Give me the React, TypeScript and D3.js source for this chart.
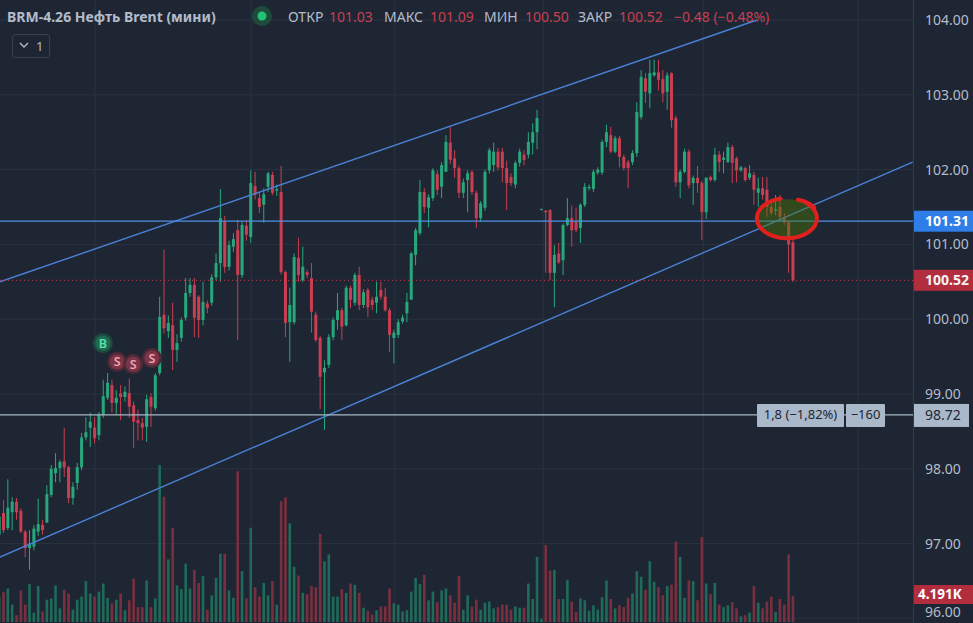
import React from 'react';
import * as d3 from 'd3';

const W = 973;
const H = 623;
const PLOT_R = 913;

const BG = '#1f2633';
const GRID = '#2a3240';
const TXT = '#b3bccb';
const UP = '#27a87c';
const DOWN = '#c93e50';
const VOL_UP = '#1e6b59';
const VOL_DOWN = '#7a2f3e';
const CHANNEL = '#4a80d6';

const priceTicks = [104, 103, 102, 101, 100, 99, 98, 97, 96];
const timeGridIdx = [22.1, 58.1, 91.2, 125.4, 162.3, 198];

// [open, high, low, close]
const ohlc: [number, number, number, number][] = [
  [97.12, 97.40, 97.08, 97.36], [97.41, 97.58, 97.14, 97.18], [97.21, 97.86, 97.18, 97.48], [97.42, 97.62, 97.18, 97.56],
  [97.56, 97.61, 97.32, 97.42], [97.44, 97.47, 97.14, 97.16], [97.16, 97.18, 96.82, 96.94], [96.94, 97.18, 96.65, 97.00],
  [96.96, 97.25, 96.91, 97.20], [97.16, 97.60, 97.10, 97.26], [97.25, 97.32, 97.12, 97.18], [97.28, 97.78, 97.28, 97.66],
  [97.65, 98.05, 97.62, 98.00], [97.94, 98.21, 97.82, 98.01], [98.01, 98.12, 97.82, 98.09], [98.10, 98.55, 97.89, 98.02],
  [98.02, 98.04, 97.54, 97.61], [97.61, 97.82, 97.52, 97.76], [97.81, 98.08, 97.72, 98.02], [98.02, 98.48, 97.98, 98.42],
  [98.42, 98.69, 98.38, 98.49], [98.55, 98.75, 98.29, 98.63], [98.55, 98.69, 98.34, 98.41], [98.45, 98.76, 98.38, 98.72],
  [98.72, 99.19, 98.68, 98.97], [98.95, 99.28, 98.92, 99.15], [99.12, 99.19, 98.75, 98.88], [98.88, 99.05, 98.72, 98.95],
  [99.01, 99.12, 98.65, 98.96], [98.96, 99.10, 98.90, 99.03], [99.01, 99.21, 98.68, 98.83], [98.85, 98.90, 98.28, 98.63],
  [98.65, 98.79, 98.38, 98.61], [98.61, 98.68, 98.38, 98.55], [98.56, 98.99, 98.36, 98.93], [98.96, 99.01, 98.56, 98.83],
  [98.81, 99.28, 98.78, 99.25], [99.28, 100.30, 99.25, 100.03], [100.06, 100.93, 99.81, 99.88], [99.84, 100.05, 99.75, 99.95],
  [99.92, 100.22, 99.32, 99.59], [99.59, 99.80, 99.43, 99.68], [99.75, 100.02, 99.70, 99.99], [100.02, 100.55, 99.98, 100.35],
  [100.35, 100.55, 100.30, 100.46], [100.46, 100.55, 99.76, 100.02], [100.30, 100.32, 99.75, 99.99], [99.99, 100.50, 99.92, 100.23],
  [100.21, 100.25, 100.08, 100.15], [100.22, 100.60, 100.18, 100.56], [100.56, 100.88, 100.52, 100.75], [100.75, 101.74, 100.50, 101.35],
  [101.30, 101.38, 100.62, 100.70], [100.70, 101.05, 100.65, 100.99], [100.97, 101.15, 100.90, 101.07], [101.19, 101.33, 99.72, 100.59],
  [100.59, 101.30, 100.55, 101.26], [101.25, 101.32, 101.05, 101.13], [101.10, 101.99, 101.02, 101.82], [101.78, 101.97, 101.60, 101.66],
  [101.62, 101.70, 101.42, 101.50], [101.53, 101.75, 101.29, 101.67], [101.77, 101.97, 101.70, 101.95], [101.93, 101.97, 101.66, 101.69],
  [101.72, 101.80, 101.65, 101.74], [101.70, 102.05, 100.60, 100.63], [100.63, 100.65, 99.76, 99.95], [99.96, 100.42, 99.43, 100.19],
  [99.96, 100.88, 99.93, 100.83], [100.82, 101.09, 100.50, 100.59], [100.52, 100.97, 100.50, 100.70], [100.63, 100.66, 100.55, 100.59],
  [100.55, 100.75, 99.82, 100.10], [100.06, 100.10, 99.70, 99.72], [99.75, 99.78, 98.80, 99.23], [99.29, 99.45, 98.52, 99.35],
  [99.39, 99.80, 99.35, 99.76], [99.76, 100.02, 99.72, 99.99], [99.99, 100.35, 99.86, 100.12], [100.12, 100.15, 99.72, 99.90],
  [99.92, 100.45, 99.90, 100.42], [100.42, 100.45, 100.15, 100.26], [100.22, 100.62, 100.18, 100.59], [100.59, 100.70, 100.12, 100.19],
  [100.19, 100.40, 100.15, 100.36], [100.39, 100.42, 100.03, 100.16], [100.26, 100.30, 100.12, 100.19], [100.22, 100.50, 100.08, 100.30],
  [100.39, 100.50, 100.26, 100.30], [100.30, 100.42, 100.10, 100.12], [100.12, 100.15, 99.56, 99.79], [99.75, 99.86, 99.41, 99.82],
  [99.79, 100.00, 99.75, 99.96], [99.97, 100.06, 99.94, 100.02], [100.08, 100.35, 99.96, 100.23], [100.26, 100.90, 100.26, 100.88],
  [100.86, 101.22, 100.72, 101.19], [101.15, 101.86, 101.12, 101.70], [101.70, 101.75, 101.42, 101.50], [101.49, 101.67, 101.23, 101.63],
  [101.62, 102.02, 101.58, 101.99], [101.94, 101.99, 101.66, 101.73], [101.77, 102.10, 101.62, 102.06], [101.97, 102.46, 101.97, 102.37],
  [102.36, 102.57, 102.08, 102.13], [102.15, 102.26, 101.89, 102.02], [102.02, 102.05, 101.62, 101.69], [101.69, 101.88, 101.62, 101.83],
  [101.86, 101.99, 101.43, 101.95], [101.97, 101.99, 101.66, 101.70], [101.69, 101.72, 101.22, 101.35], [101.35, 101.58, 101.30, 101.55],
  [101.49, 102.00, 101.45, 101.97], [101.99, 102.29, 101.95, 102.26], [102.06, 102.36, 101.97, 102.24], [102.24, 102.29, 101.99, 102.03],
  [102.24, 102.29, 101.83, 102.02], [102.02, 102.12, 101.46, 101.82], [101.90, 101.95, 101.78, 101.82], [101.80, 102.12, 101.75, 102.09],
  [102.09, 102.28, 102.04, 102.24], [102.20, 102.26, 102.06, 102.13], [102.20, 102.50, 102.15, 102.37], [102.36, 102.62, 102.20, 102.50],
  [102.50, 102.80, 102.27, 102.69], [101.47, 101.48, 101.46, 101.47], [101.45, 101.46, 100.62, 101.43], [101.46, 101.47, 100.52, 100.62],
  [100.62, 100.99, 100.16, 100.86], [100.88, 101.02, 100.74, 100.76], [100.79, 101.28, 100.59, 101.26], [101.26, 101.62, 101.24, 101.35],
  [101.35, 101.52, 100.97, 101.19], [101.31, 101.49, 101.16, 101.19], [101.22, 101.55, 101.02, 101.53], [101.53, 101.82, 101.50, 101.77],
  [101.75, 101.80, 101.72, 101.77], [101.74, 102.00, 101.70, 101.97], [101.96, 102.03, 101.93, 102.00], [101.96, 102.40, 101.93, 102.37],
  [102.37, 102.60, 102.30, 102.50], [102.46, 102.57, 102.22, 102.24], [102.24, 102.45, 102.22, 102.42], [102.42, 102.45, 102.03, 102.17],
  [102.17, 102.20, 101.99, 102.02], [102.10, 102.13, 101.75, 102.02], [102.10, 102.26, 102.06, 102.22], [102.22, 102.90, 102.17, 102.77],
  [102.70, 103.33, 102.67, 103.24], [103.22, 103.29, 102.89, 103.04], [103.02, 103.47, 102.82, 103.29], [103.26, 103.47, 103.24, 103.30],
  [103.30, 103.47, 103.06, 103.20], [103.21, 103.33, 102.90, 103.02], [103.04, 103.30, 102.80, 103.26], [103.29, 103.30, 102.56, 102.66],
  [102.69, 102.72, 101.77, 101.83], [101.83, 102.00, 101.62, 101.97], [101.97, 102.28, 101.95, 102.24], [102.24, 102.27, 101.75, 101.79],
  [101.82, 101.92, 101.53, 101.89], [101.89, 102.05, 101.69, 101.82], [101.82, 101.85, 101.06, 101.43], [101.43, 101.90, 101.34, 101.89],
  [101.90, 101.92, 101.84, 101.86], [101.86, 102.29, 101.84, 102.20], [102.20, 102.25, 101.97, 102.10], [102.13, 102.24, 101.95, 102.16],
  [102.10, 102.36, 102.09, 102.30], [102.30, 102.33, 101.82, 102.09], [102.15, 102.17, 101.83, 101.99], [101.99, 102.05, 101.97, 102.03],
  [102.02, 102.04, 101.84, 101.86], [101.89, 102.06, 101.86, 101.95], [101.93, 101.97, 101.53, 101.73], [101.69, 101.89, 101.50, 101.75],
  [101.75, 101.90, 101.60, 101.66], [101.73, 101.90, 101.37, 101.50], [101.50, 101.59, 101.39, 101.42], [101.45, 101.66, 101.39, 101.47],
  [101.50, 101.66, 101.33, 101.37], [101.35, 101.42, 101.26, 101.30], [101.30, 101.31, 100.62, 101.00], [101.03, 101.09, 100.50, 100.52],
];

// volume, thousands of contracts
const volume = [
  4.0, 4.8, 5.4, 2.8, 1.1, 5.1, 2.8, 6.1, 1.5, 5.8,
  1.7, 3.6, 3.8, 5.9, 2.2, 5.2, 4.6, 2.0, 3.6, 4.1,
  6.6, 4.6, 4.1, 4.9, 6.2, 3.9, 3.0, 3.6, 4.6, 1.9,
  3.5, 7.0, 2.4, 2.4, 6.7, 2.4, 3.8, 25.3, 20.2, 10.1,
  15.2, 5.9, 5.3, 9.4, 5.4, 8.4, 6.3, 7.4, 2.0, 4.3,
  7.1, 11.0, 11.0, 5.1, 3.9, 24.3, 8.2, 3.8, 15.2, 5.6,
  4.1, 6.3, 4.3, 6.6, 2.8, 19.5, 20.1, 15.9, 8.9, 7.5,
  4.7, 4.5, 5.8, 5.6, 14.2, 9.8, 10.9, 4.1, 4.1, 5.3,
  4.7, 6.2, 6.0, 4.7, 2.3, 1.8, 1.2, 1.9, 2.5, 2.5,
  5.4, 3.0, 2.8, 1.7, 1.9, 4.9, 7.1, 6.1, 7.6, 3.5,
  4.9, 3.2, 5.1, 5.4, 4.3, 3.1, 7.4, 2.0, 4.3, 2.5,
  3.6, 2.0, 3.1, 3.3, 2.2, 2.4, 2.8, 2.8, 2.0, 2.5,
  2.3, 2.3, 6.2, 3.7, 10.5, 0.5, 12.4, 8.3, 8.4, 3.7,
  3.7, 6.8, 3.3, 1.6, 3.8, 3.5, 1.8, 2.7, 2.0, 4.0,
  6.7, 3.7, 2.2, 2.7, 2.4, 3.9, 4.6, 8.2, 7.3, 5.2,
  9.8, 6.5, 5.6, 4.3, 5.8, 6.0, 13.0, 10.5, 3.9, 6.7,
  6.6, 3.5, 13.7, 6.2, 4.5, 6.3, 2.8, 2.4, 2.7, 3.2,
  2.2, 0.9, 1.1, 1.5, 5.8, 3.1, 2.2, 3.3, 4.1, 1.6,
  3.7, 2.8, 10.9, 4.191,
];

const upperChannel = [{ i: 0.19, p: 100.50 }, { i: 174.7, p: 104.0 }];
const lowerChannel = [{ i: 0.19, p: 96.82 }, { i: 210.6, p: 102.10 }];
const levelBlue = 101.31;
const levelMeasure = 98.72;
const measureText = '1,8 (−1,82%)';
const measureBars = '−160';
const markers = [
  { i: 23.9, p: 99.68, t: 'B' },
  { i: 27.2, p: 99.43, t: 'S' },
  { i: 30.9, p: 99.40, t: 'S' },
  { i: 35.2, p: 99.48, t: 'S' },
];
const highlight = { i: 181.6, p: 101.35, rx: 30, ry: 20 };

const title = 'BRM-4.26 Нефть Brent (мини)';
const ohlcLabels = ['ОТКР', 'МАКС', 'МИН', 'ЗАКР'];
const ohlcLabelX = [288, 384, 484, 578];
const ohlcValueX = [329, 430, 525, 619];

export default function App() {
  const n = ohlc.length;
  const x = d3.scaleLinear().domain([0, n - 1]).range([-0.84, 792.96]);
  const y = d3.scaleLinear().domain([96, 104]).range([618.4, 20]);
  const vy = d3.scaleLinear().domain([0, 30]).range([622, 436]);

  const last = ohlc[n - 1];
  const prevClose = ohlc[n - 2][3];
  const chg = last[3] - prevClose;
  const chgPct = (chg / prevClose) * 100;
  const fmt = d3.format('.2f');
  const minus = (s: string) => s.replace('-', '−');
  const headerVals = [last[0], last[1], last[2], last[3]].map(fmt);
  const chgText = `${minus(fmt(chg))} (${minus(fmt(chgPct))}%)`;

  const line = d3.line<{ i: number; p: number }>().x(d => x(d.i)).y(d => y(d.p));

  const hx = x(highlight.i);
  const hy = y(highlight.p);
  const arcPts = d3.range(-50, 262, 4).map(a => {
    const r = (a * Math.PI) / 180;
    return [hx + highlight.rx * Math.cos(r), hy + highlight.ry * Math.sin(r)] as [number, number];
  });
  const hookPts = d3.range(285, 335, 5).map(a => {
    const r = (a * Math.PI) / 180;
    return [hx + 4 + (highlight.rx - 3) * Math.cos(r), hy - 2 + (highlight.ry - 3) * Math.sin(r)] as [number, number];
  });
  const curve = d3.line().curve(d3.curveCatmullRom);

  const yBlue = y(levelBlue);
  const yLast = y(last[3]);
  const yMeas = y(levelMeasure);

  return (
    <svg width={W} height={H} style={{ position: 'fixed', left: 0, top: 0, display: 'block' }}
      fontFamily="'Noto Sans', 'Open Sans', sans-serif">
      <defs>
        <clipPath id="plot"><rect x={0} y={0} width={PLOT_R} height={H} /></clipPath>
      </defs>
      <rect x={0} y={0} width={W} height={H} fill={BG} />

      <g clipPath="url(#plot)">
        {priceTicks.map(p => (
          <line key={p} x1={0} x2={PLOT_R} y1={y(p)} y2={y(p)} stroke={GRID} strokeWidth={1} />
        ))}
        {timeGridIdx.map(i => (
          <line key={i} x1={x(i)} x2={x(i)} y1={0} y2={H} stroke={GRID} strokeWidth={1} />
        ))}

        {volume.map((v, i) => {
          const up = ohlc[i][3] >= ohlc[i][0];
          return (
            <rect key={i} x={x(i) - 1.3} width={2.6} y={vy(v)} height={vy(0) - vy(v)}
              fill={up ? VOL_UP : VOL_DOWN} />
          );
        })}

        {ohlc.map((c, i) => {
          const [o, h, l, cl] = c;
          const up = cl >= o;
          const col = up ? UP : DOWN;
          const top = y(Math.max(o, cl));
          const bot = y(Math.min(o, cl));
          return (
            <g key={i}>
              <line x1={x(i)} x2={x(i)} y1={y(h)} y2={y(l)} stroke={col} strokeWidth={1} />
              <rect x={x(i) - 1.5} width={3} y={top} height={Math.max(1, bot - top)} fill={col} />
            </g>
          );
        })}

        <path d={line(upperChannel) || ''} stroke={CHANNEL} strokeWidth={1.4} fill="none" />
        <path d={line(lowerChannel) || ''} stroke={CHANNEL} strokeWidth={1.4} fill="none" />
        <line x1={0} x2={PLOT_R} y1={yBlue} y2={yBlue} stroke="#4f8fe6" strokeWidth={1.3} />
        <line x1={0} x2={PLOT_R} y1={yLast} y2={yLast} stroke={DOWN} strokeWidth={1} strokeDasharray="1 3" />
        <line x1={0} x2={PLOT_R} y1={yMeas} y2={yMeas} stroke="#a7b6c6" strokeWidth={1.3} />

        {markers.map((m, k) => {
          const isB = m.t === 'B';
          return (
            <g key={k} transform={`translate(${x(m.i)},${y(m.p)})`}>
              <circle r={10} fill={isB ? '#1d4a3e' : '#4a2a38'} />
              <circle r={7.5} fill={isB ? '#1f6b52' : '#7c3546'} />
              <text textAnchor="middle" dy="0.36em" fontSize={12.5} fontWeight={600}
                fill={isB ? '#58e0ac' : '#f0a2b0'}>{m.t}</text>
            </g>
          );
        })}

        <ellipse cx={hx} cy={hy} rx={highlight.rx - 1} ry={highlight.ry - 1} fill="#4a7a00" fillOpacity={0.42} />
        <path d={curve(arcPts) || ''} stroke="#e0201c" strokeWidth={4} fill="none" strokeLinecap="round" />
        <path d={curve(hookPts) || ''} stroke="#e0201c" strokeWidth={4} fill="none" strokeLinecap="round" />

        <rect x={757} y={yMeas - 11} width={87} height={23} fill="#a9b9ca" rx={1} />
        <text x={757 + 43.5} y={yMeas} dy="0.35em" textAnchor="middle" fontSize={13} fill="#1f2633">{measureText}</text>
        <rect x={846} y={yMeas - 11} width={39} height={23} fill="#a9b9ca" rx={1} />
        <text x={846 + 19.5} y={yMeas} dy="0.35em" textAnchor="middle" fontSize={13} fill="#1f2633">{measureBars}</text>
      </g>

      <line x1={PLOT_R + 0.5} x2={PLOT_R + 0.5} y1={0} y2={H} stroke="#323b49" strokeWidth={1} />

      {priceTicks.map(p => (
        <text key={p} x={925} y={Math.min(y(p), 612)} dy="0.35em" fontSize={14} fill={TXT}>{fmt(p)}</text>
      ))}

      <rect x={PLOT_R + 1} y={yBlue - 10.5} width={W - PLOT_R - 1} height={21} fill="#2f7de8" />
      <text x={925} y={yBlue} dy="0.36em" fontSize={14} fontWeight={700} fill="#ffffff">{fmt(levelBlue)}</text>
      <rect x={PLOT_R + 1} y={yLast - 10.5} width={W - PLOT_R - 1} height={21} fill="#b22d3d" />
      <text x={925} y={yLast} dy="0.36em" fontSize={14} fontWeight={700} fill="#f3f3f3">{fmt(last[3])}</text>
      <rect x={PLOT_R + 1} y={yMeas - 11} width={55} height={23} fill="#a9b9ca" />
      <text x={925} y={yMeas} dy="0.36em" fontSize={14} fill="#1f2633">{fmt(levelMeasure)}</text>
      <rect x={PLOT_R + 1} y={vy(volume[n - 1]) - 11} width={W - PLOT_R - 1} height={19} fill="#b22d3d" />
      <text x={918} y={vy(volume[n - 1]) - 2} dy="0.36em" fontSize={13.5} fontWeight={700} fill="#ffffff">{`${d3.format('.3f')(volume[n - 1])}K`}</text>

      <text x={7} y={22} fontSize={14} fontWeight={700} fill={TXT}>{title}</text>
      <circle cx={262} cy={16} r={10} fill="#1e4a3c" />
      <circle cx={262} cy={16} r={4.5} fill="#22c274" />
      {ohlcLabels.map((lab, k) => (
        <g key={lab}>
          <text x={ohlcLabelX[k]} y={22} fontSize={14} fill={TXT}>{lab}</text>
          <text x={ohlcValueX[k]} y={22} fontSize={14} fill={DOWN}>{headerVals[k]}</text>
        </g>
      ))}
      <text x={674} y={22} fontSize={14} fill={DOWN}>{chgText}</text>

      <rect x={12.5} y={34.5} width={37} height={23} rx={3} fill="none" stroke="#39424f" strokeWidth={1} />
      <path d="M20,43 L24,47 L28,43" stroke={TXT} strokeWidth={1.4} fill="none" />
      <text x={36} y={51} fontSize={13} fill={TXT}>1</text>
    </svg>
  );
}
